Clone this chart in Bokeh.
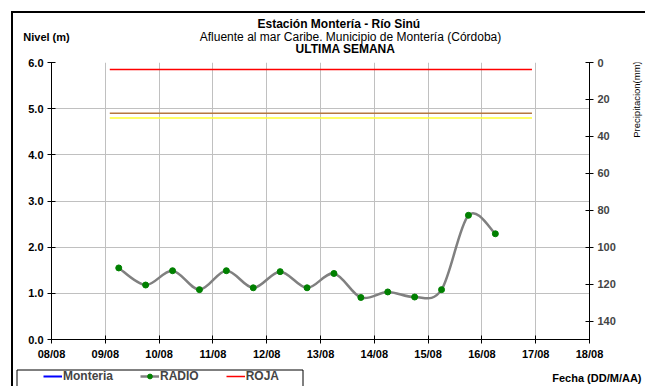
import numpy as np
from bokeh.plotting import figure
from bokeh.layouts import column, row
from bokeh.models import (Range1d, LinearAxis, Label, Legend, LegendItem, FixedTicker,
                          DatetimeTickFormatter, NumeralTickFormatter)
from bokeh.embed import file_html
from bokeh.resources import INLINE

# ---------------- data ----------------
times = ["2010-08-09T06:00", "2010-08-09T18:00", "2010-08-10T06:00", "2010-08-10T18:00",
         "2010-08-11T06:00", "2010-08-11T18:00", "2010-08-12T06:00", "2010-08-12T18:00",
         "2010-08-13T06:00", "2010-08-13T18:00", "2010-08-14T06:00", "2010-08-14T18:00",
         "2010-08-15T06:00", "2010-08-15T18:00", "2010-08-16T06:00"]
radio = [1.55, 1.18, 1.49, 1.08, 1.49, 1.12, 1.47, 1.12, 1.43, 0.91, 1.03, 0.92, 1.08, 2.69, 2.29]
threshold_span = ["2010-08-09T02:00", "2010-08-16T22:20"]
roja = 5.85
naranja = 4.90
amarilla = 4.80
day_ticks = ["2010-08-%02dT00:00" % d for d in range(8, 19)]
level_ticks = [0, 1, 2, 3, 4, 5, 6]
precip_ticks = [0, 20, 40, 60, 80, 100, 120, 140]
legend_labels = ["Monteria", "RADIO", "ROJA"]

FONT = "Liberation Sans"

def ms(t):
    return np.array(t, dtype="datetime64[ms]").astype("int64").astype(float)

tx = ms(times)
ty = np.array(radio, dtype=float)
xt = ms(day_ticks)
x0, x1 = xt[0], xt[-1]

W, H = 645, 386
TOP_H = 54          # title strip
BOT_H = 24          # legend strip
MID_H = H - TOP_H - BOT_H
RIGHT_W = 22
MID_W = W - RIGHT_W
FL, FT, FR, FB = 51, 62, 589, 339  # plot frame in page pixels


def strip(w, h, yr=None):
    f = figure(width=w, height=h, x_range=Range1d(0, w),
               y_range=yr if yr is not None else Range1d(h, 0),
               x_axis_location=None, y_axis_location=None, output_backend="svg",
               toolbar_location=None, min_border=0, tools="")
    f.outline_line_color = None
    f.grid.grid_line_color = None
    f.background_fill_alpha = 0
    f.border_fill_alpha = 0
    return f


def lab(f, text, px, py, size, style="normal", align="center", angle=0.0):
    f.add_layout(Label(x=px, y=py, text=text, text_font=FONT, text_font_size=size,
                       text_font_style=style, text_align=align, text_baseline="middle",
                       angle=angle, text_color="black"))

# ---------------- title strip ----------------
top = strip(W, TOP_H)
lab(top, "Estación Montería  - Río Sinú", 340, 23, "12px", "bold")
lab(top, "Afluente al mar Caribe. Municipio de Montería (Córdoba)", 350, 36, "12px")
lab(top, "ULTIMA SEMANA", 345, 48, "12px", "bold")
lab(top, "Nivel (m)", 46, 36, "11px", "bold")

# ---------------- right strip (precipitation title) ----------------
right = strip(RIGHT_W, MID_H, yr=Range1d(FB, FT))
lab(right, "Precipitacion(mm)", 636 - MID_W, 99, "9.5px", angle=np.pi / 2)

# ---------------- main plot ----------------
p = figure(width=MID_W, height=MID_H, x_axis_type="datetime", output_backend="svg",
           toolbar_location=None, tools="", x_range=Range1d(x0, x1), y_range=Range1d(0, 6),
           min_border_left=FL, min_border_top=FT - TOP_H,
           min_border_right=MID_W - FR, min_border_bottom=TOP_H + MID_H - FB)
p.outline_line_color = None
p.background_fill_color = "white"
p.border_fill_alpha = 0

for ax in (p.xaxis[0], p.yaxis[0]):
    ax.axis_line_color = "black"
    ax.major_tick_line_color = "black"
    ax.major_tick_in = 4
    ax.major_tick_out = 4
    ax.minor_tick_line_color = None
    ax.major_label_standoff = 4
    ax.major_label_text_font = FONT
    ax.major_label_text_font_style = "bold"
    ax.major_label_text_font_size = "11px"
    ax.major_label_text_color = "black"

p.xaxis[0].ticker = FixedTicker(ticks=list(xt))
fmt = "%d/%m"
p.xaxis[0].formatter = DatetimeTickFormatter(days=fmt, months=fmt, hours=fmt, minutes=fmt,
                                             hourmin=fmt, seconds=fmt, years=fmt,
                                             milliseconds=fmt, minsec=fmt)
p.yaxis[0].ticker = FixedTicker(ticks=level_ticks)
p.yaxis[0].formatter = NumeralTickFormatter(format="0.0")

p.extra_y_ranges = {"pp": Range1d(150, 0)}
rax = LinearAxis(y_range_name="pp", ticker=FixedTicker(ticks=precip_ticks))
rax.axis_line_color = "black"
rax.major_tick_line_color = "black"
rax.major_tick_in = 4
rax.major_tick_out = 4
rax.major_label_standoff = 4
rax.minor_tick_line_color = None
rax.major_label_text_font = FONT
rax.major_label_text_font_style = "bold"
rax.major_label_text_font_size = "11px"
p.add_layout(rax, "right")

p.xgrid.ticker = FixedTicker(ticks=list(xt))
p.ygrid.ticker = FixedTicker(ticks=level_ticks)
p.xgrid.grid_line_color = "#c0c0c0"
p.ygrid.grid_line_color = "#c0c0c0"

sx = ms(threshold_span)
p.line(sx, [roja, roja], line_color="#ff0000", line_width=1.5)
p.line(sx, [naranja, naranja], line_color="#b5773f", line_width=1.5)
p.line(sx, [amarilla, amarilla], line_color="#ffff33", line_width=1.5)

# smoothed curve (Catmull-Rom style Bezier through the data points)
n = len(tx)
P = np.column_stack([tx, ty])
Pe = np.vstack([P[0], P, P[-1]])
c0 = Pe[1:n] + (Pe[2:n + 1] - Pe[0:n - 1]) / 6.0
c1 = Pe[2:n + 1] - (Pe[3:n + 2] - Pe[1:n]) / 6.0
p.bezier(x0=P[:-1, 0], y0=P[:-1, 1], x1=P[1:, 0], y1=P[1:, 1],
         cx0=c0[:, 0], cy0=c0[:, 1], cx1=c1[:, 0], cy1=c1[:, 1],
         line_color="#808080", line_width=2.5)
p.scatter(tx, ty, size=6, fill_color="#008000", line_color="#008000")

# ---------------- legend strip ----------------
bot = strip(W, BOT_H)
oy = TOP_H + MID_H
bot.quad(left=[16.5], right=[302.5], top=[369.5 - oy], bottom=[BOT_H + 5],
         fill_alpha=0, line_color="black", line_width=1)
nan = [np.nan]
r_mont = bot.line(nan, nan, line_color="#0000ff", line_width=2)
r_gray = bot.line(nan, nan, line_color="#808080", line_width=2.5)
r_pts = bot.scatter(nan, nan, size=6, fill_color="#008000", line_color="#008000")
r_roja = bot.line(nan, nan, line_color="#ff0000", line_width=1.5)
legend = Legend(items=[LegendItem(label=legend_labels[0], renderers=[r_mont]),
                       LegendItem(label=legend_labels[1], renderers=[r_gray, r_pts]),
                       LegendItem(label=legend_labels[2], renderers=[r_roja])],
                orientation="horizontal", location=(43, 3),
                padding=0, spacing=27, glyph_width=19, glyph_height=12,
                label_height=12, label_standoff=1, border_line_color=None,
                background_fill_alpha=0, margin=0,
                label_text_font=FONT, label_text_font_style="bold",
                label_text_font_size="12px")
bot.add_layout(legend, "center")
lab(bot, "Fecha (DD/M/AA)", 641, 377 - oy, "11px", "bold", align="right")

frame_css = ("linear-gradient(#000, #000) 11px 11px / 2px 400px no-repeat, "
             "linear-gradient(#000, #000) 11px 11px / 640px 2px no-repeat, #ffffff")
layout = column(top, row(p, right, spacing=0), bot, spacing=0,
                styles={"background": frame_css})
open("out.html", "w").write(file_html(layout, INLINE))
